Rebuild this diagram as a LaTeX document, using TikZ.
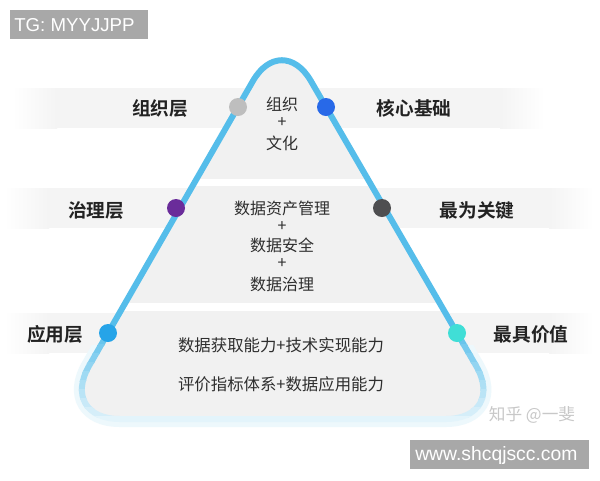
\documentclass[tikz,border=0pt]{standalone}
\usepackage{fontspec}
\setmainfont{Liberation Sans}
\newfontfamily\cjk{Noto Sans CJK SC}[BoldFont={Noto Sans CJK SC Bold}]
\definecolor{bandgray}{HTML}{F4F4F4}
\definecolor{trigray}{HTML}{F1F1F1}
\definecolor{lineblue}{HTML}{55BDEA}
\definecolor{linepale}{HTML}{DCF1FA}
\definecolor{glow}{HTML}{EDF8FC}
\definecolor{wmgray}{HTML}{A8A8A8}
\definecolor{txt}{HTML}{2E2E2E}
\definecolor{lbl}{HTML}{222222}
\tikzset{
  dotnode/.style={circle, inner sep=0pt, minimum size=13.5pt},
  lblnode/.style={text=lbl, font=\cjk\bfseries\fontsize{14}{16}\selectfont, inner sep=0pt},
  innernode/.style={text=txt, font=\cjk\fontsize{12}{14}\selectfont, inner sep=0pt},
  rownode/.style={text=txt, font=\cjk\fontsize{12.3}{14}\selectfont, inner sep=0pt},
}
\def\tripath{(282,419) [rounded corners=46pt] -- (58.5,419) [rounded corners=43.5pt] -- (281.8,30.8) [rounded corners=46pt] -- (506.9,419) -- cycle}
\begin{document}
\begin{tikzpicture}[x=0.75pt,y=-0.75pt]
\useasboundingbox (0,0) rectangle (600,480);
\fill[white] (0,0) rectangle (600,480);
% horizontal bands
\foreach \ya/\yb/\xl/\xr in {88/128/12/545, 188/228/4/594, 313/353/4/594} {
  \shade[left color=white, right color=bandgray, draw=none] (\xl,\ya) rectangle ({\xl+45},\yb);
  \fill[bandgray] ({\xl+44},\ya) rectangle ({\xr-44},\yb);
  \shade[left color=bandgray, right color=white, draw=none] ({\xr-45},\ya) rectangle (\xr,\yb);
}
% glow at bottom
\begin{scope}
  \clip (0,345) rectangle (600,480);
  \draw[line width=12pt, glow, line join=round] \tripath;
\end{scope}
% triangle fill
\fill[trigray] \tripath;
\begin{scope}
  \clip \tripath;
  \fill[white] (0,179) rectangle (600,186);
  \fill[white] (0,303) rectangle (600,311);
\end{scope}
% outline
\begin{scope}
  \clip (0,0) rectangle (600,336);
  \draw[line width=4.5pt, lineblue] \tripath;
\end{scope}
\foreach \i [evaluate=\i as \p using 85-\i*10] in {0,...,9} {
  \begin{scope}
    \clip (0,{335+\i*9}) rectangle (600,{345.5+\i*9});
    \draw[line width=4.5pt, lineblue!\p!linepale] \tripath;
  \end{scope}
}
% dots
\node[dotnode, fill={rgb,255:red,190;green,190;blue,190}] (d1) at (238,107) {};
\node[dotnode, fill={rgb,255:red,40;green,105;blue,232}] (d2) at (326,107) {};
\node[dotnode, fill={rgb,255:red,106;green,44;blue,154}] (d3) at (176,208) {};
\node[dotnode, fill={rgb,255:red,78;green,78;blue,80}] (d4) at (382,208) {};
\node[dotnode, fill={rgb,255:red,38;green,164;blue,232}] (d5) at (108,333) {};
\node[dotnode, fill={rgb,255:red,64;green,222;blue,214}] (d6) at (457,333) {};
% side labels
\node[lblnode] (l1) at (160,108) {组织层};
\node[lblnode] (r1) at (414,108) {核心基础};
\node[lblnode] (l2) at (96,210) {治理层};
\node[lblnode] (r2) at (477,210) {最为关键};
\node[lblnode] (l3) at (55,334) {应用层};
\node[lblnode] (r3) at (531,334) {最具价值};
% inner texts
\node[innernode] (t1) at (282,104) {组织};
\node[innernode] (t2) at (282,123) {+};
\node[innernode] (t3) at (282,143) {文化};
\node[innernode] (m1) at (282,208) {数据资产管理};
\node[innernode] (m2) at (282,227) {+};
\node[innernode] (m3) at (282,245) {数据安全};
\node[innernode] (m4) at (282,264) {+};
\node[innernode] (m5) at (282,284) {数据治理};
\node[rownode] (b1) at (281,345) {数据获取能力+技术实现能力};
\node[rownode] (b2) at (281,384) {评价指标体系+数据应用能力};
% watermarks
\node[text={rgb,255:red,200;green,200;blue,200}, font=\cjk\fontsize{12.5}{14}\selectfont, inner sep=0pt] (zh) at (532,415) {知乎 @一斐};
\fill[wmgray] (10,10) rectangle (148,39);
\node[text=white, font=\fontsize{14}{16}\selectfont, inner sep=0pt, anchor=west] (tg) at (14,25) {TG: MYYJJPP};
\fill[wmgray] (410,440) rectangle (589,469);
\node[text=white, font=\fontsize{14.5}{16}\selectfont, inner sep=0pt, anchor=west] (www) at (415,455) {www.shcqjscc.com};
\end{tikzpicture}
\end{document}
